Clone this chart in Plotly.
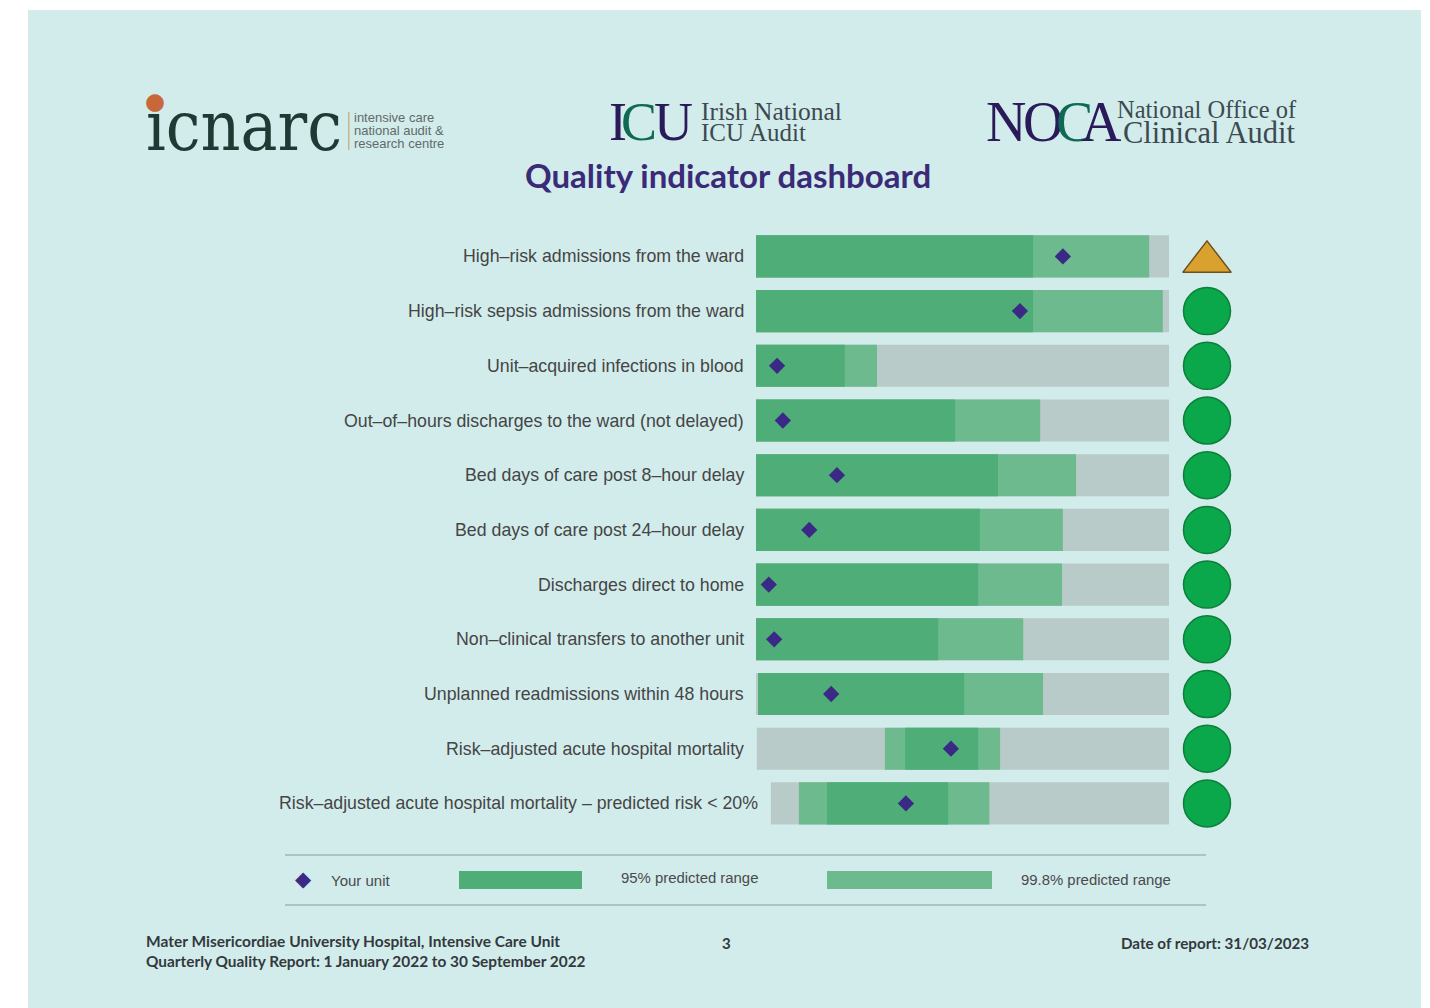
import plotly.graph_objects as go

W, H = 1430, 1008

indicators = [
    "High–risk admissions from the ward",
    "High–risk sepsis admissions from the ward",
    "Unit–acquired infections in blood",
    "Out–of–hours discharges to the ward (not delayed)",
    "Bed days of care post 8–hour delay",
    "Bed days of care post 24–hour delay",
    "Discharges direct to home",
    "Non–clinical transfers to another unit",
    "Unplanned readmissions within 48 hours",
    "Risk–adjusted acute hospital mortality",
    "Risk–adjusted acute hospital mortality – predicted risk < 20%",
]
scale_low = [0, 0, 0, 0, 0, 0, 0, 0, 0, 0.2, 3.6]
scale_high = [100] * 11
range998_low = [0, 0, 0, 0, 0, 0, 0, 0, 0.5, 31.2, 10.4]
range998_high = [95.2, 98.5, 29.3, 68.8, 77.5, 74.3, 74.1, 64.7, 69.5, 59.1, 56.5]
range95_low = [0, 0, 0, 0, 0, 0, 0, 0, 0.5, 36.1, 17.2]
range95_high = [67.1, 67.1, 21.5, 48.2, 58.6, 54.2, 53.8, 44.1, 50.4, 53.8, 46.5]
your_unit = [74.3, 63.9, 5.1, 6.5, 19.6, 12.9, 3.1, 4.4, 18.2, 47.2, 36.3]
status = ["warn"] + ["ok"] * 10
status_pos = 109.2

BG, GREY, C95, C998, NAVY = "#d2ecec", "#b8cbc8", "#4fae78", "#6cba8e", "#3a2a85"
TEAL, PURPLE = "#0f6a55", "#2a1a5a"


def px(v):
    return v / W


def py(v):
    return 1 - v / H


def diff(a, b):
    return [round(y - x, 2) for x, y in zip(a, b)]


fig = go.Figure()
common = dict(y=indicators, orientation="h", width=0.77, marker_line_width=0)
fig.add_bar(x=diff(scale_low, scale_high), base=scale_low, marker_color=GREY, name="Scale", **common)
fig.add_bar(x=diff(range998_low, range998_high), base=range998_low, marker_color=C998,
            name="99.8% predicted range", **common)
fig.add_bar(x=diff(range95_low, range95_high), base=range95_low, marker_color=C95,
            name="95% predicted range", **common)
fig.add_scatter(x=your_unit, y=indicators, mode="markers", name="Your unit",
                marker=dict(symbol="diamond", size=12.5, color=NAVY, line=dict(width=0)))
ok_y = [n for n, s in zip(indicators, status) if s == "ok"]
warn_y = [n for n, s in zip(indicators, status) if s == "warn"]
fig.add_scatter(x=[status_pos] * len(ok_y), y=ok_y, mode="markers", name="OK",
                marker=dict(symbol="circle", size=47, color="#0aa84a",
                            line=dict(color="#0d7f3c", width=1.5)))
fig.add_scatter(x=[status_pos] * len(warn_y), y=warn_y, mode="markers", name="Warning", yaxis="y2",
                marker=dict(symbol="triangle-up", size=42, color="#d9a12e",
                            line=dict(color="#6b5020", width=1.5)))

ann = []


def text(x, y, s, size, color="#333", font="Liberation Sans", anchor="left"):
    ann.append(dict(x=px(x), y=py(y), xref="paper", yref="paper", text=s, showarrow=False,
                    xanchor=anchor, yanchor="middle", borderpad=0,
                    font=dict(family=font, size=size, color=color)))


for name, lo in zip(indicators, scale_low):
    ann.append(dict(x=lo, y=name, xref="x", yref="y", text=name.replace("<", "&lt;"), showarrow=False,
                    xanchor="right", xshift=-10.5, yanchor="middle",
                    font=dict(family="Liberation Sans", size=17.75, color="#454545")))

# Header
SERIF = "Liberation Serif"
text(145, 125.5, "icnarc", 69, "#1f3a34", "DejaVu Serif Condensed, DejaVu Serif")
text(155, 101, "●", 23, "#c8683a", "DejaVu Sans", "center")
for y, s in zip((117, 131, 144), ("intensive care", "national audit &", "research centre")):
    text(353, y, s, 13, "#5f6b68")
for x, s, c in zip((608, 620, 653), "ICU", (PURPLE, TEAL, PURPLE)):
    text(x, 122, s, 54, c, SERIF)
text(700, 111, "Irish National", 25.5, "#3d4a50", SERIF)
text(700, 133, "ICU Audit", 25, "#3d4a50", SERIF)
for x, s, c in zip((985, 1022, 1055, 1080), "NOCA", (PURPLE, PURPLE, TEAL, PURPLE)):
    text(x, 122, s, 56, c, SERIF)
text(1116, 109, "National Office of", 24.5, "#3d4a50", SERIF)
text(1122, 133, "Clinical Audit", 30.5, "#3d4a50", SERIF)
text(727.5, 175.5, "<b>Quality indicator dashboard</b>", 33, "#3b2a78", "Lato", "center")

# Legend row
text(303, 879, "◆", 21, NAVY, "DejaVu Sans", "center")
text(330, 880, "Your unit", 15, "#4a4a4a")
text(620, 878, "95% predicted range", 14.9, "#4a4a4a")
text(1020, 880, "99.8% predicted range", 14.9, "#4a4a4a")

# Footer
text(145, 941, "<b>Mater Misericordiae University Hospital, Intensive Care Unit</b>", 15.5, "#33393c", "Lato")
text(145, 961, "<b>Quarterly Quality Report: 1 January 2022 to 30 September 2022</b>", 15.4, "#33393c", "Lato")
text(727, 943, "<b>3</b>", 15, "#33393c", "Lato", "center")
text(1310, 943, "<b>Date of report: 31/03/2023</b>", 15.2, "#33393c", "Lato", "right")


def rect(x0, y0, x1, y1, color):
    return dict(type="rect", xref="paper", yref="paper", x0=px(x0), x1=px(x1), y0=py(y0), y1=py(y1),
                fillcolor=color, line_width=0, layer="below")


def hline(y):
    return dict(type="line", xref="paper", yref="paper", x0=px(285), x1=px(1206), y0=py(y), y1=py(y),
                line=dict(color="#a5b5b5", width=1.3))


shapes = [
    rect(28, 10, 1421, 1008, BG),
    rect(459, 871, 582, 889, C95),
    rect(827, 871, 992, 889, C998),
    rect(348, 112, 349.5, 150, "#c9b48a"),
    hline(855), hline(905),
]

step = 54.7
top = 256.4 - step / 2
bottom = 803.4 + step / 2
fig.update_layout(
    width=W, height=H, margin=dict(l=0, r=0, t=0, b=0), autosize=False,
    paper_bgcolor="white", plot_bgcolor="rgba(0,0,0,0)", barmode="overlay", showlegend=False,
    xaxis=dict(domain=[px(756), px(1240)], range=[0, 484 / 4.13], visible=False, fixedrange=True),
    yaxis=dict(domain=[py(bottom), py(top)], type="category", categoryorder="array",
               categoryarray=indicators, range=[10.5, -0.5], visible=False),
    yaxis2=dict(overlaying="y", type="category", categoryorder="array", categoryarray=indicators,
                range=[10.5 - 0.1, -0.5 - 0.1], visible=False),
    annotations=ann, shapes=shapes,
)
fig.write_html("out.html", config={"displayModeBar": False},
               post_script="document.body.style.margin='0';document.body.style.overflow='hidden';")
